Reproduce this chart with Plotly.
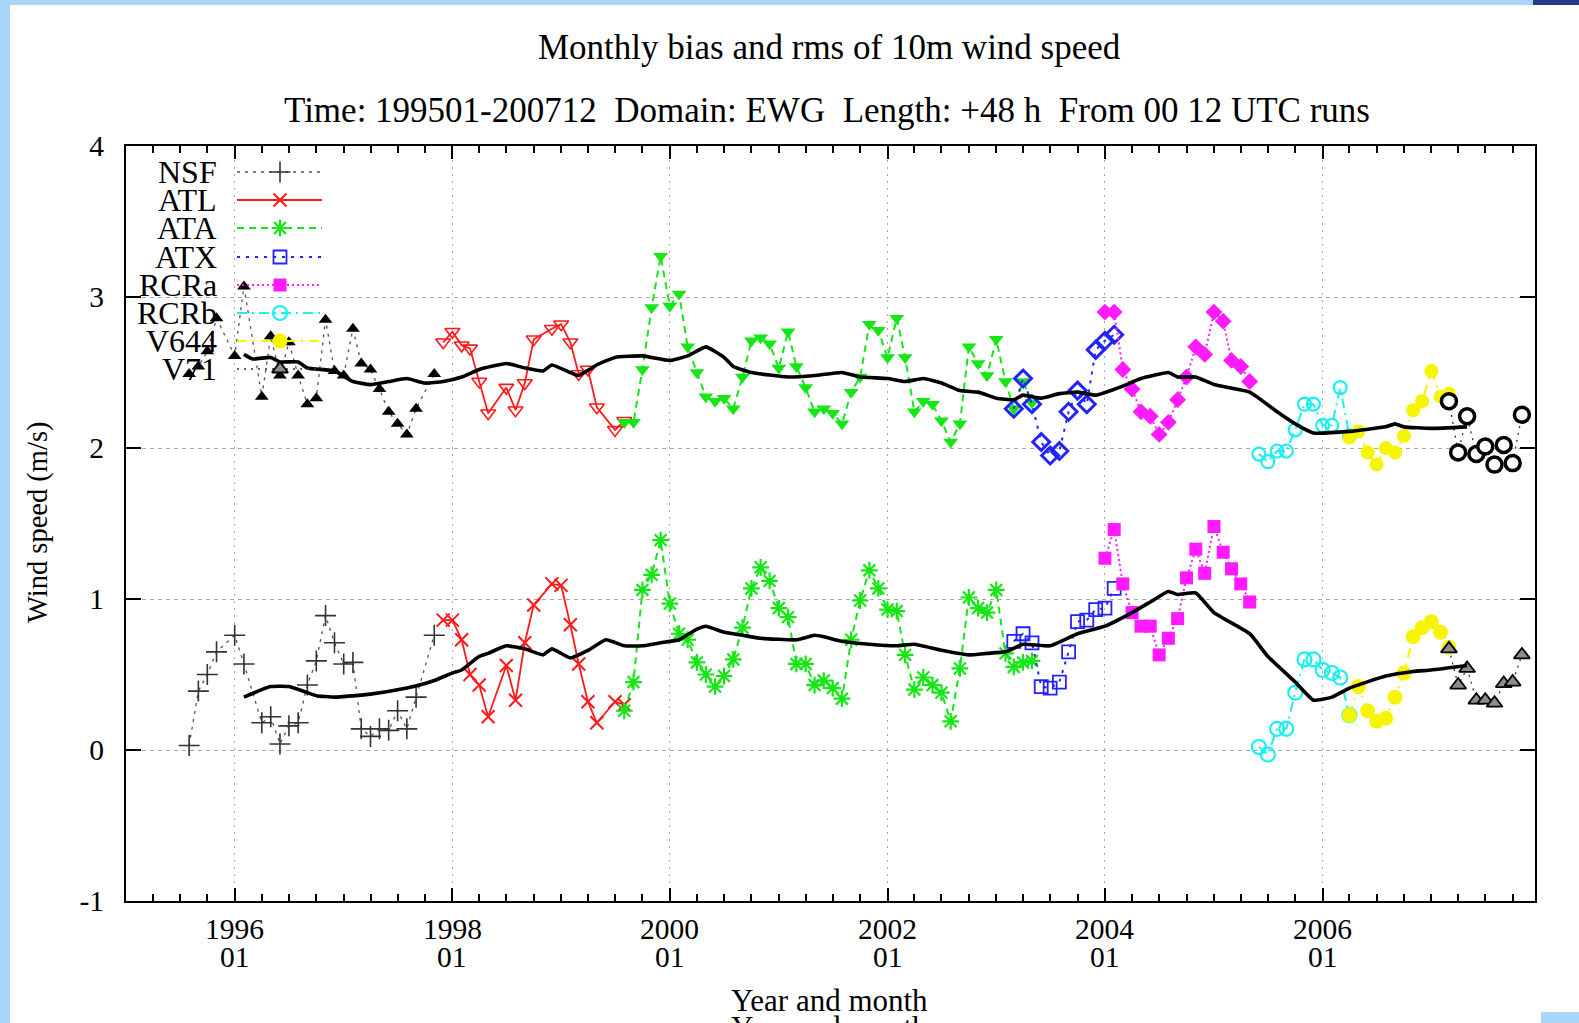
import plotly.graph_objects as go

# ---------------- data ----------------
nsf_dates = ["1995-08", "1995-09", "1995-10", "1995-11", "1996-01", "1996-02", "1996-04", "1996-05",
             "1996-06", "1996-07", "1996-08", "1996-09", "1996-10", "1996-11", "1996-12", "1997-01",
             "1997-02", "1997-03", "1997-04", "1997-05", "1997-06", "1997-07", "1997-08", "1997-09", "1997-11"]
nsf_rms = [2.49, 2.54, 2.64, 2.86, 2.61, 3.07, 2.34, 2.74, 2.48, 2.70, 2.48, 2.29, 2.33, 2.85, 2.51, 2.48,
           2.79, 2.56, 2.52, 2.39, 2.24, 2.16, 2.09, 2.26, 2.49]
nsf_bias = [0.03, 0.39, 0.50, 0.65, 0.76, 0.57, 0.18, 0.22, 0.04, 0.16, 0.18, 0.43, 0.59, 0.89, 0.71, 0.57,
            0.58, 0.14, 0.09, 0.14, 0.13, 0.26, 0.14, 0.35, 0.76]

atl_dates = ["1997-12", "1998-01", "1998-02", "1998-03", "1998-04", "1998-05", "1998-07", "1998-08", "1998-09",
             "1998-10", "1998-12", "1999-01", "1999-02", "1999-03", "1999-04", "1999-05", "1999-07", "1999-08"]
atl_rms = [2.70, 2.77, 2.68, 2.66, 2.44, 2.23, 2.40, 2.25, 2.43, 2.72, 2.79, 2.82, 2.70, 2.49, 2.52, 2.27, 2.12, 2.18]
atl_bias = [0.86, 0.86, 0.73, 0.50, 0.43, 0.22, 0.56, 0.33, 0.71, 0.96, 1.10, 1.09, 0.83, 0.57, 0.32, 0.18, 0.32, 0.30]

ata_start = "1999-08"
ata_rms = [2.17, 2.17, 2.52, 2.93, 3.27,
           2.94, 3.02, 2.67, 2.50, 2.34, 2.31, 2.33, 2.26, 2.47, 2.71, 2.73, 2.69,
           2.53, 2.77, 2.54, 2.40, 2.24, 2.26, 2.23, 2.16, 2.37, 2.47, 2.82, 2.78,
           2.60, 2.86, 2.60, 2.24, 2.31, 2.29, 2.18, 2.04, 2.16, 2.67, 2.56, 2.48,
           2.72, 2.44, 2.26, 2.44, 2.30]
ata_bias = [0.26, 0.45, 1.06, 1.16, 1.39,
            0.97, 0.77, 0.73, 0.58, 0.50, 0.42, 0.49, 0.60, 0.81, 1.07, 1.21, 1.12,
            0.94, 0.88, 0.57, 0.57, 0.43, 0.46, 0.41, 0.34, 0.73, 0.99, 1.19, 1.07,
            0.93, 0.92, 0.63, 0.40, 0.48, 0.43, 0.38, 0.19, 0.54, 1.01, 0.94, 0.91,
            1.06, 0.64, 0.55, 0.58, 0.59]

atx_start = "2003-03"
atx_rms = [2.26, 2.46, 2.29, 2.04, 1.95, 1.98, 2.24, 2.38, 2.29, 2.65, 2.71, 2.75]
atx_bias = [0.72, 0.77, 0.71, 0.42, 0.41, 0.45, 0.65, 0.85, 0.86, 0.93, 0.94, 1.07]

rcra_start = "2004-01"
rcra_rms = [2.90, 2.90, 2.52, 2.39, 2.24, 2.21, 2.09, 2.17, 2.32, 2.47, 2.67, 2.62, 2.90, 2.84, 2.58, 2.54, 2.44]
rcra_bias = [1.27, 1.46, 1.10, 0.91, 0.82, 0.82, 0.63, 0.74, 0.87, 1.14, 1.33, 1.17, 1.48, 1.31, 1.20, 1.10, 0.98]

rcrb_start = "2005-06"
rcrb_rms = [1.96, 1.91, 1.98, 1.98, 2.12, 2.29, 2.29, 2.15, 2.15, 2.40, 2.08]
rcrb_bias = [0.02, -0.03, 0.14, 0.14, 0.38, 0.60, 0.60, 0.53, 0.51, 0.48, 0.23]

v644_start = "2006-04"
v644_rms = [2.07, 2.11, 1.97, 1.89, 2.00, 1.97, 2.08, 2.25, 2.31, 2.51, 2.34, 2.36]
v644_bias = [0.23, 0.42, 0.26, 0.19, 0.21, 0.35, 0.51, 0.75, 0.81, 0.85, 0.78, 0.68]

v71_start = "2007-03"
v71_rms = [2.31, 1.97, 2.21, 1.96, 2.01, 1.89, 2.02, 1.90, 2.22]
v71_bias = [0.67, 0.43, 0.54, 0.33, 0.33, 0.31, 0.44, 0.45, 0.63]

# running means (thick black lines)
rms_mean_dates = ["1996-02", "1996-03", "1996-05", "1996-06", "1996-08", "1996-09", "1996-12", "1997-02",
                  "1997-04", "1997-06", "1997-08", "1997-10", "1997-12", "1998-02", "1998-04", "1998-07",
                  "1998-09", "1998-11", "1998-12", "1999-02", "1999-03", "1999-05", "1999-07", "1999-10",
                  "2000-01", "2000-03", "2000-05", "2000-07", "2000-08", "2000-10", "2001-02", "2001-05",
                  "2001-08", "2001-10", "2002-01", "2002-03", "2002-05", "2002-07", "2002-09", "2002-11",
                  "2003-01", "2003-03", "2003-04", "2003-06", "2003-08", "2003-10", "2003-12", "2004-03",
                  "2004-05", "2004-08", "2004-09", "2004-11", "2005-01", "2005-05", "2005-08", "2005-10",
                  "2005-12", "2006-04", "2006-08", "2006-09", "2006-10", "2007-01", "2007-05"]
rms_mean = [2.62, 2.59, 2.60, 2.57, 2.57, 2.53, 2.51, 2.44, 2.42, 2.44, 2.46, 2.43, 2.44, 2.47, 2.52, 2.56,
            2.53, 2.51, 2.55, 2.50, 2.48, 2.55, 2.60, 2.61, 2.58, 2.61, 2.67, 2.60, 2.54, 2.50, 2.47, 2.48,
            2.50, 2.47, 2.46, 2.44, 2.46, 2.43, 2.38, 2.37, 2.33, 2.32, 2.35, 2.33, 2.36, 2.37, 2.35, 2.41,
            2.46, 2.50, 2.47, 2.47, 2.42, 2.37, 2.24, 2.16, 2.10, 2.11, 2.14, 2.16, 2.14, 2.13, 2.14]

bias_mean_dates = ["1996-02", "1996-04", "1996-05", "1996-07", "1996-09", "1996-10", "1996-12", "1997-04",
                   "1997-08", "1997-10", "1997-11", "1998-01", "1998-02", "1998-04", "1998-05", "1998-07",
                   "1998-09", "1998-11", "1998-12", "1999-02", "1999-04", "1999-06", "1999-08", "1999-10",
                   "1999-12", "2000-02", "2000-04", "2000-05", "2000-07", "2000-09", "2000-11", "2001-03",
                   "2001-05", "2001-06", "2001-08", "2001-11", "2002-02", "2002-04", "2002-07", "2002-10",
                   "2002-12", "2003-02", "2003-04", "2003-07", "2003-10", "2004-01", "2004-04", "2004-06",
                   "2004-08", "2004-09", "2004-11", "2005-01", "2005-05", "2005-07", "2005-10", "2005-12",
                   "2006-02", "2006-04", "2006-08", "2006-11", "2007-01", "2007-05"]
bias_mean = [0.35, 0.40, 0.42, 0.42, 0.38, 0.36, 0.35, 0.37, 0.41, 0.44, 0.46, 0.51, 0.53, 0.62, 0.64, 0.69,
             0.67, 0.63, 0.67, 0.61, 0.66, 0.73, 0.69, 0.69, 0.71, 0.73, 0.80, 0.82, 0.78, 0.76, 0.74, 0.73,
             0.76, 0.75, 0.72, 0.70, 0.69, 0.70, 0.66, 0.63, 0.64, 0.65, 0.70, 0.69, 0.77, 0.82, 0.91, 0.98,
             1.05, 1.03, 1.04, 0.91, 0.77, 0.62, 0.45, 0.33, 0.35, 0.41, 0.49, 0.52, 0.53, 0.56]

legend_names = ["NSF", "ATL", "ATA", "ATX", "RCRa", "RCRb", "V644", "V71"]

x_tick_dates = ["1996-01", "1998-01", "2000-01", "2002-01", "2004-01", "2006-01"]
x_tick_years = ["1996", "1998", "2000", "2002", "2004", "2006"]
x_tick_months = ["01", "01", "01", "01", "01", "01"]

y_tick_vals = [-1, 0, 1, 2, 3, 4]
y_tick_text = ["-1", "0", "1", "2", "3", "4"]

title_text = "Monthly bias and rms of 10m wind speed"
subtitle_text = "Time: 199501-200712  Domain: EWG  Length: +48 h  From 00 12 UTC runs"
y_title = "Wind speed (m/s)"
x_title = "Year and month"


# ---------------- helpers ----------------
def d(ym):
    return ym + "-01"


def months_from(start, n):
    y, m = int(start[:4]), int(start[5:7])
    out = []
    for _ in range(n):
        out.append("%04d-%02d-01" % (y, m))
        m += 1
        if m > 12:
            m = 1
            y += 1
    return out


FONT = "Liberation Serif"
GREEN = "#16e616"
BLUE = "#2323ff"
RED = "#ff1a1a"
MAG = "#ff1aff"
CYAN = "#19f0f0"
YEL = "#f5f500"

styles = {
    "NSF": dict(line=dict(color="#555555", width=1.3, dash="3px,5px"),
                rms=dict(symbol="triangle-up", size=12, color="black"),
                bias=dict(symbol="cross-thin-open", size=15, color="#333333", line=dict(color="#333333", width=1.6))),
    "ATL": dict(line=dict(color=RED, width=1.8, dash="solid"),
                rms=dict(symbol="triangle-down-open", size=13, color=RED, line=dict(color=RED, width=1.6)),
                bias=dict(symbol="x-thin-open", size=13, color=RED, line=dict(color=RED, width=2))),
    "ATA": dict(line=dict(color=GREEN, width=2, dash="7px,5px"),
                rms=dict(symbol="triangle-down", size=13, color=GREEN),
                bias=dict(symbol="asterisk-open", size=14, color=GREEN, line=dict(color=GREEN, width=2.2))),
    "ATX": dict(line=dict(color=BLUE, width=2, dash="3px,6px"),
                rms=dict(symbol="diamond-open", size=13, color=BLUE, line=dict(color=BLUE, width=3)),
                bias=dict(symbol="square-open", size=13, color=BLUE, line=dict(color=BLUE, width=1.8))),
    "RCRa": dict(line=dict(color=MAG, width=2, dash="2px,3px"),
                 rms=dict(symbol="diamond", size=13, color=MAG),
                 bias=dict(symbol="square", size=13, color=MAG)),
    "RCRb": dict(line=dict(color=CYAN, width=2, dash="10px,5px,2px,5px"),
                 rms=dict(symbol="circle-open", size=13, color=CYAN, line=dict(color=CYAN, width=2.2)),
                 bias=dict(symbol="circle-open", size=14, color=CYAN, line=dict(color=CYAN, width=2.2))),
    "V644": dict(line=dict(color=YEL, width=2, dash="10px,6px,2px,6px"),
                 rms=dict(symbol="circle", size=14, color=YEL),
                 bias=dict(symbol="circle", size=15, color=YEL)),
    "V71": dict(line=dict(color="#333333", width=1.3, dash="2px,5px"),
                rms=dict(symbol="circle", size=15, color="white", line=dict(color="black", width=3.5)),
                bias=dict(symbol="triangle-up", size=14, color="#8c8c8c", line=dict(color="black", width=1.8))),
}

series = [
    ("NSF", [d(s) for s in nsf_dates], nsf_rms, nsf_bias),
    ("ATL", [d(s) for s in atl_dates], atl_rms, atl_bias),
    ("ATA", months_from(ata_start, len(ata_rms)), ata_rms, ata_bias),
    ("ATX", months_from(atx_start, len(atx_rms)), atx_rms, atx_bias),
    ("RCRa", months_from(rcra_start, len(rcra_rms)), rcra_rms, rcra_bias),
    ("RCRb", months_from(rcrb_start, len(rcrb_rms)), rcrb_rms, rcrb_bias),
    ("V644", months_from(v644_start, len(v644_rms)), v644_rms, v644_bias),
    ("V71", months_from(v71_start, len(v71_rms)), v71_rms, v71_bias),
]

fig = go.Figure()

for name, xs, rms, bias in series:
    st = styles[name]
    fig.add_trace(go.Scatter(x=xs, y=rms, mode="lines+markers", line=st["line"], marker=st["rms"],
                             name=name + " rms", showlegend=False))
    fig.add_trace(go.Scatter(x=xs, y=bias, mode="lines+markers", line=st["line"], marker=st["bias"],
                             name=name + " bias", showlegend=False))

fig.add_trace(go.Scatter(x=[d(s) for s in rms_mean_dates], y=rms_mean, mode="lines",
                         line=dict(color="black", width=3.6, shape="spline", smoothing=0.4), showlegend=False))
fig.add_trace(go.Scatter(x=[d(s) for s in bias_mean_dates], y=bias_mean, mode="lines",
                         line=dict(color="black", width=3.6, shape="spline", smoothing=0.4), showlegend=False))

# ---------------- geometry ----------------
W, H = 1579, 1023
L, R, T, B = 126, 1535, 146, 901
PW, PH = R - L, B - T


def px(xp):
    return (xp - L) / PW


def py(yp):
    return (B - yp) / PH


# ---------------- manual key (gnuplot style) ----------------
key_rows = [172, 200, 228, 257, 285, 313, 341, 369]
annotations = []
for name, yr in zip(legend_names, key_rows):
    st = styles[name]
    yy = py(yr)
    fig.add_trace(go.Scatter(x=[px(237), px(322)], y=[yy, yy], mode="lines", line=st["line"],
                             xaxis="x2", yaxis="y2", showlegend=False, hoverinfo="skip"))
    fig.add_trace(go.Scatter(x=[px(280)], y=[yy], mode="markers", marker=st["bias"],
                             xaxis="x2", yaxis="y2", showlegend=False, hoverinfo="skip"))
    annotations.append(dict(xref="paper", yref="paper", x=px(219), y=yy, xanchor="right", yanchor="middle",
                            text=name, showarrow=False, font=dict(family=FONT, size=32, color="black")))

# two-line x tick labels (year / month) placed at the tick dates
for td, ty, tm in zip(x_tick_dates, x_tick_years, x_tick_months):
    annotations.append(dict(xref="x", yref="paper", x=d(td), y=py(929), xanchor="center", yanchor="middle",
                            text=ty, showarrow=False, font=dict(family=FONT, size=29.5, color="black")))
    annotations.append(dict(xref="x", yref="paper", x=d(td), y=py(957), xanchor="center", yanchor="middle",
                            text=tm, showarrow=False, font=dict(family=FONT, size=29.5, color="black")))

annotations += [
    dict(xref="paper", yref="paper", x=px(829), y=py(47), xanchor="center", yanchor="middle",
         text=title_text, showarrow=False, font=dict(family=FONT, size=35, color="black")),
    dict(xref="paper", yref="paper", x=px(827), y=py(111), xanchor="center", yanchor="middle",
         text=subtitle_text, showarrow=False, font=dict(family=FONT, size=35, color="black")),
    dict(xref="paper", yref="paper", x=px(38), y=py(523), xanchor="center", yanchor="middle",
         text=y_title, textangle=-90, showarrow=False, font=dict(family=FONT, size=28.5, color="black")),
    dict(xref="paper", yref="paper", x=px(829), y=py(1000), xanchor="center", yanchor="middle",
         text=x_title, showarrow=False, font=dict(family=FONT, size=31, color="black")),
    dict(xref="paper", yref="paper", x=px(829), y=py(1008), xanchor="center", yanchor="top",
         text=x_title, showarrow=False, font=dict(family=FONT, size=31, color="black")),
]

shapes = [
    dict(type="rect", xref="paper", yref="paper", x0=px(0), x1=px(10), y0=py(H), y1=py(0),
         fillcolor="#aad5fa", line=dict(width=0), layer="below"),
    dict(type="rect", xref="paper", yref="paper", x0=px(0), x1=px(1533), y0=py(5), y1=py(0),
         fillcolor="#aad5fa", line=dict(width=0), layer="below"),
    dict(type="rect", xref="paper", yref="paper", x0=px(1533), x1=px(W), y0=py(5), y1=py(0),
         fillcolor="#2a3a86", line=dict(width=0), layer="below"),
    dict(type="rect", xref="paper", yref="paper", x0=px(1541), x1=px(W), y0=py(H), y1=py(1012),
         fillcolor="#aad5fa", line=dict(width=0), layer="below"),
]

fig.update_layout(
    width=W, height=H,
    margin=dict(l=L, r=W - R, t=T, b=H - B, pad=0),
    paper_bgcolor="white", plot_bgcolor="white",
    showlegend=False,
    font=dict(family=FONT, size=28, color="black"),
    annotations=annotations,
    shapes=shapes,
    xaxis=dict(
        type="date", range=["1995-01-01", "2007-12-15"],
        tick0="1996-01-01", dtick="M24", showticklabels=False,
        ticks="inside", ticklen=13, tickwidth=1.5, tickcolor="black",
        minor=dict(dtick="M3", tick0="1996-01-01", ticks="inside", ticklen=7, tickwidth=1.5,
                   tickcolor="black", showgrid=False),
        showline=True, linecolor="black", linewidth=2.2, mirror="ticks",
        showgrid=True, gridcolor="#a8a8a8", gridwidth=1, griddash="2px,5px",
        zeroline=False,
    ),
    yaxis=dict(
        range=[-1, 4], tickmode="array", tickvals=y_tick_vals, ticktext=y_tick_text,
        ticks="inside", ticklen=15, tickwidth=1.5, tickcolor="black",
        showline=True, linecolor="black", linewidth=2.2, mirror="ticks",
        showgrid=True, gridcolor="#a8a8a8", gridwidth=1, griddash="4px,4px",
        tickfont=dict(family=FONT, size=29.5, color="black"),
        zeroline=False, ticklabelstandoff=14,
    ),
    xaxis2=dict(overlaying="x", range=[0, 1], visible=False, fixedrange=True),
    yaxis2=dict(overlaying="y", range=[0, 1], visible=False, fixedrange=True),
)

fig.write_html("out.html", config={"displayModeBar": False},
               post_script="document.body.style.margin='0px';document.body.style.overflow='hidden';")
